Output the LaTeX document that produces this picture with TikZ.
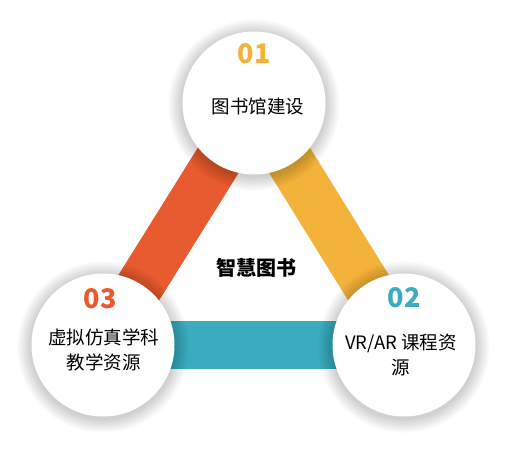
\documentclass[tikz,border=0pt]{standalone}
\usepackage{fontspec}
\setmainfont{Noto Sans CJK SC}
\usepackage{tikz}
\usetikzlibrary{positioning, calc}
\definecolor{bandred}{HTML}{E85B30}
\definecolor{bandyellow}{HTML}{F3B33A}
\definecolor{bandteal}{HTML}{3AABC0}

\begin{document}
\begin{tikzpicture}[x=1pt, y=-1pt,
    band/.style={line width=48pt},
    disc/.style={circle, fill=white, minimum size=143pt, inner sep=0pt},
    num/.style={font=\fontsize{27}{27}\selectfont\bfseries},
    txt/.style={font=\fontsize{18.5}{25}\selectfont, align=center}]
    \useasboundingbox (0,0) rectangle (507,449);
    \coordinate (p1) at (254,103);
    \coordinate (p2) at (404,345);
    \coordinate (p3) at (103,345);

    % the three bands
    \draw[band, bandred] (p1) -- (p3);
    \draw[band, bandyellow] (p1) -- (p2);
    \draw[band, bandteal] (p3) -- (p2);

    % soft shadows
    \foreach \p in {p1, p2, p3}
        \foreach \i in {1,...,16}
            \fill[black, opacity=0.013] ($(\p)+(0,2)$) circle (71.5+\i*0.9);

    \node (top) [disc] at (p1) {};
    \node (right) [disc] at (p2) {};
    \node (left) [disc] at (p3) {};

    \node (n1) [num, text=bandyellow] at ($(top)+(0,-49)$) {01};
    \node (t1) [txt] at ($(top)+(4,3)$) {图书馆建设};
    \node (n2) [num, text=bandteal] at ($(right)+(0,-47)$) {02};
    \node (t2) [txt] at ($(right)+(-3,10)$) {VR/AR 课程资\\源};
    \node (n3) [num, text=bandred] at ($(left)+(-3,-46)$) {03};
    \node (t3) [txt] at ($(left)+(1,5)$) {虚拟仿真学科\\教学资源};

    \node (hub) [font=\fontsize{20}{20}\selectfont\bfseries] at (256,268) {智慧图书};
\end{tikzpicture}
\end{document}
